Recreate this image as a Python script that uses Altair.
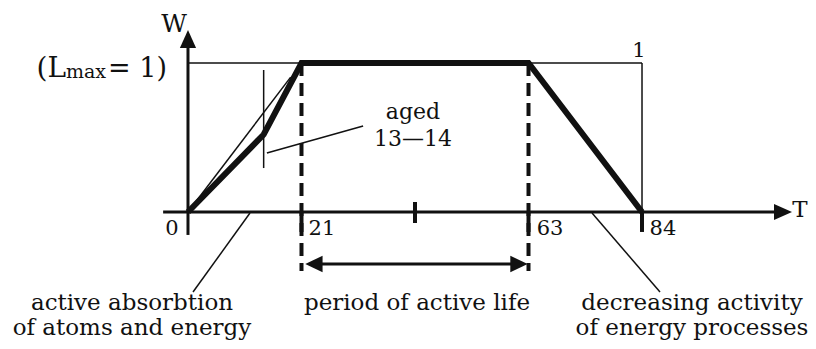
import altair as alt
import pandas as pd

FONT = "DejaVu Serif"
INK = "#111111"

# ---- data (T = age units, W = activity) ----
curve_T = [0, 14, 21, 63, 84]
curve_W = [0, 0.52, 1, 1, 0]
major_ticks = [21, 63, 84]
tick_labels = ["0", "21", "63", "84"]
tick_label_T = [-2.96, 24.79, 66.98, 87.88]
mid_tick = 42
period_start, period_end = 21, 63
Lmax = 1

XS = alt.Scale(domain=[-33.30, 114.71], nice=False, zero=False)
YS = alt.Scale(domain=[-0.9195, 1.3691], nice=False, zero=False)


def enc_seg():
    return dict(
        x=alt.X("x:Q", scale=XS, axis=None),
        x2="x2:Q",
        y=alt.Y("y:Q", scale=YS, axis=None),
        y2="y2:Q",
    )


def rules(rows, width, dash=None):
    df = pd.DataFrame(rows, columns=["x", "x2", "y", "y2"])
    kw = dict(color=INK, strokeWidth=width, strokeCap="butt")
    if dash:
        kw["strokeDash"] = dash
    return alt.Chart(df).mark_rule(**kw).encode(**enc_seg())


def heads(rows, shape, size=324):
    df = pd.DataFrame(rows, columns=["x", "y"])
    return alt.Chart(df).mark_point(
        shape=shape, size=size, filled=True, color=INK, opacity=1, strokeWidth=0
    ).encode(x=alt.X("x:Q", scale=XS, axis=None), y=alt.Y("y:Q", scale=YS, axis=None))


def texts(rows, size, align="center", baseline="middle"):
    df = pd.DataFrame(rows, columns=["x", "y", "t"])
    return alt.Chart(df).mark_text(
        font=FONT, fontSize=size, align=align, baseline=baseline, color=INK
    ).encode(
        x=alt.X("x:Q", scale=XS, axis=None),
        y=alt.Y("y:Q", scale=YS, axis=None),
        text="t:N",
    )


# axes
axes = rules([[0, 0, -0.154, 1.12], [-4.6, 109.0, 0, 0]], 3)
axis_heads = alt.layer(
    heads([[0, 1.161]], "M0,-1L-0.9,1L0.9,1Z"),
    heads([[110.08, 0]], "M1,0L-1,-0.9L-1,0.9Z"),
)
ticks = rules([[t, t, 0, -0.134] for t in major_ticks] + [[mid_tick, mid_tick, 0.067, -0.074]], 4)

# thin frame at L max
frame = rules([[0, 84, Lmax, Lmax], [84, 84, 0, Lmax]], 1.5)

# dashed verticals
dashed = rules([[period_start, period_start, Lmax, -0.396], [period_end, period_end, Lmax, -0.396]], 4, [13, 7])

# double arrow of active life
period = rules([[22.5, 61.5, -0.349, -0.349]], 3)
period_heads = alt.layer(
    heads([[23.3, -0.349]], "M-1,0L1,-0.95L1,0.95Z", 300),
    heads([[61.24, -0.349]], "M1,0L-1,-0.95L-1,0.95Z", 300),
)

# thin helper lines
thin = rules(
    [
        [0, 19, 0, 0.905],          # straight diagonal
        [14, 14, 0.295, 0.953],     # vertical at age 13-14
        [14.6, 32.4, 0.396, 0.577], # leader to "aged"
        [11.47, 0.93, -0.007, -0.537],   # leader left
        [74.75, 87.33, -0.007, -0.537],  # leader right
    ],
    1.5,
)

# main thick curve
curve_df = pd.DataFrame({"T": curve_T, "W": curve_W, "o": range(len(curve_T))})
curve = alt.Chart(curve_df).mark_line(
    color=INK, strokeWidth=6, strokeJoin="miter", strokeCap="butt"
).encode(
    x=alt.X("T:Q", scale=XS, axis=None),
    y=alt.Y("W:Q", scale=YS, axis=None),
    order="o:Q",
)

# texts
labels = alt.layer(
    texts([[tick_label_T[i], -0.114, tick_labels[i]] for i in range(4)], 21),
    texts([[83.44, 1.081, "1"]], 21),
    texts([[-2.59, 1.262, "W"]], 25),
    texts([[113.2, 0.013, "T"]], 23),
    texts([[41.63, 0.671, "aged"], [41.63, 0.49, "13\u201414"]], 22),
    texts([[-22.57, 0.906, "(L"]], 28, align="right", baseline="alphabetic"),
    texts([[-22.57, 0.899, "max"]], 19, align="left", baseline="alphabetic"),
    texts([[-3.885, 0.906, "= 1)"]], 27, align="right", baseline="alphabetic"),
    texts(
        [
            [-10.36, -0.611, "active absorbtion"],
            [-10.36, -0.779, "of atoms and energy"],
            [42.37, -0.611, "period of active life"],
            [93.25, -0.611, "decreasing activity"],
            [93.25, -0.779, "of energy processes"],
        ],
        23,
    ),
)

chart = alt.layer(
    frame, thin, dashed, axes, ticks, axis_heads, period, period_heads, curve, labels
).properties(
    width=800, height=341, autosize=alt.AutoSizeParams(type="none"), padding=0,
    background="white",
).configure_view(stroke=None)

chart.save("out.html", embed_options={"renderer": "svg", "actions": False})
